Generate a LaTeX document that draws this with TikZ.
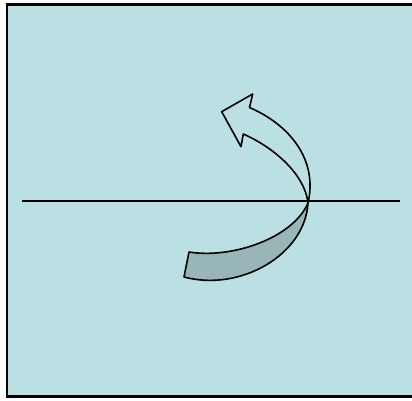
\documentclass[tikz,border=0pt]{standalone}
\usepackage{tikz}
\usepackage{xcolor}
\definecolor{paneblue}{RGB}{187,224,227}
\definecolor{ribbongray}{RGB}{152,182,183}

\begin{document}
\begin{tikzpicture}[
  x=1pt, y=-1pt,
  frame/.style={draw=black, line width=2.5pt, fill=paneblue},
  axisline/.style={draw=black, line width=1.6pt},
  band/.style={draw=black, line width=1.6pt, line join=round, fill=paneblue},
  underside/.style={draw=black, line width=1.6pt, line join=round, fill=ribbongray}
]
\useasboundingbox (0,0) rectangle (412,401);
\clip (0,0) rectangle (412,401);
\path[frame] (7,4.5) rectangle (430,396.5);
% horizontal axis
\coordinate (left) at (22,201);
\coordinate (right) at (400,201);
\draw[axisline] (left) -- (right);
% twisted arrow
\coordinate (twist) at (308,203);
\path[underside] (twist) .. controls (293,238) and (232,259) .. (189,252)
  -- (184,277) .. controls (240,292) and (305,255) .. (twist) -- cycle;
\path[band] (twist) .. controls (318,160) and (290,125) .. (249.5,107.5)
  -- (252.7,94) -- (221.7,111.7) -- (241,146.7) -- (243.3,134)
  .. controls (275,148) and (305,175) .. (twist) -- cycle;
\end{tikzpicture}
\end{document}
